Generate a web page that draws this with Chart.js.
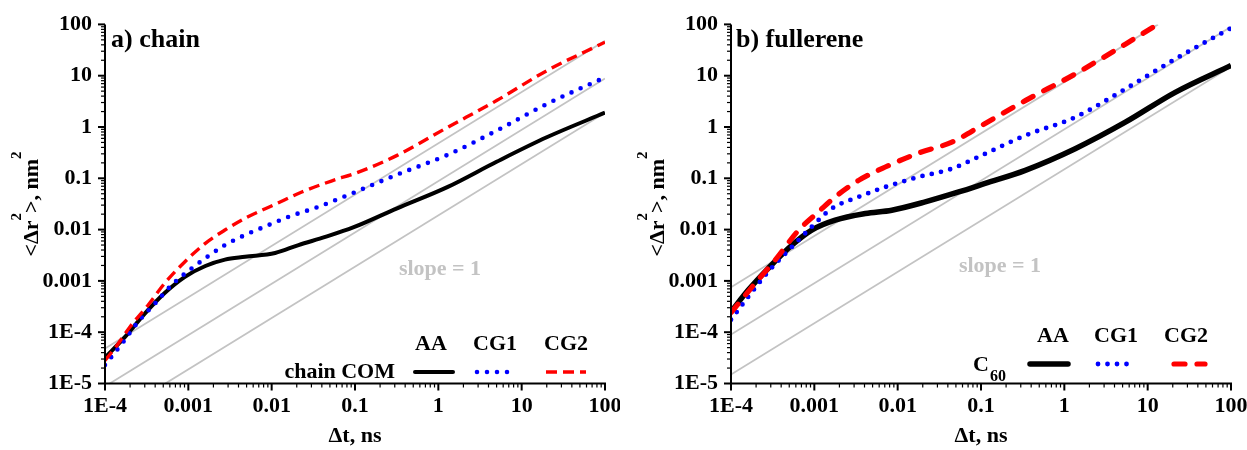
<!DOCTYPE html>
<html lang="en">
<head>
<meta charset="UTF-8">
<title>MSD chain / fullerene</title>
<script src="https://cdn.jsdelivr.net/npm/chart.js@4"></script>
<style>
  body { margin: 0; background: #fff; }
  canvas { position: absolute; top: 0; }
  #chartA { left: 0; }
  #chartB { left: 620px; }
</style>
</head>
<body>
<canvas id="chartA" width="620" height="450"></canvas>
<canvas id="chartB" width="627" height="450"></canvas>
<script>
// ---- axes ----
const xTickValues = [1e-4, 1e-3, 0.01, 0.1, 1, 10, 100];
const xTickLabels = ['1E-4', '0.001', '0.01', '0.1', '1', '10', '100'];
const yTickValues = [1e-5, 1e-4, 1e-3, 0.01, 0.1, 1, 10, 100];
const yTickLabels = ['1E-5', '1E-4', '0.001', '0.01', '0.1', '1', '10', '100'];

// ---- a) chain COM ----
const chainTimeAA = [1e-4, 1.74e-4, 3.0e-4, 5.2e-4, 9.1e-4, 1.6e-3, 2.75e-3, 4.8e-3, 0.011, 0.021, 0.044, 0.095, 0.32, 1.3, 5.0, 20, 100];
const chainAA     = [3.2e-5, 8.1e-5, 2.3e-4, 5.8e-4, 1.2e-3, 1.95e-3, 2.6e-3, 2.95e-3, 3.5e-3, 5.0e-3, 7.2e-3, 0.011, 0.026, 0.068, 0.21, 0.63, 1.9];
const chainTimeCG1 = [1e-4, 1.66e-4, 2.5e-4, 4.0e-4, 6.3e-4, 1.1e-3, 1.74e-3, 2.75e-3, 4.8e-3, 0.01, 0.016, 0.036, 0.095, 0.32, 1.3, 5.5, 20, 100];
const chainCG1     = [2.3e-5, 6.5e-5, 1.6e-4, 3.65e-4, 8.3e-4, 1.76e-3, 3.05e-3, 5.0e-3, 7.85e-3, 0.013, 0.0178, 0.0277, 0.0519, 0.118, 0.288, 0.92, 2.8, 9.3];
const chainTimeCG2 = [1e-4, 1.4e-4, 2.0e-4, 3.3e-4, 5.2e-4, 9.1e-4, 1.6e-3, 2.75e-3, 5.2e-3, 0.0105, 0.023, 0.052, 0.11, 0.32, 1.3, 5.0, 20, 100];
const chainCG2     = [2.8e-5, 5.6e-5, 1.28e-4, 3.4e-4, 9.0e-4, 2.37e-3, 5.4e-3, 9.8e-3, 0.0178, 0.030, 0.054, 0.0885, 0.132, 0.28, 0.99, 3.27, 12.5, 45];
// slope = 1 guides, [start, end] as [t, msd]
const chainGuides = [
  [[1e-4, 4.8e-5], [100, 48]],
  [[1.14e-4, 1e-5], [100, 8.8]],
  [[5.3e-4, 1e-5], [100, 1.9]]
];

// ---- b) fullerene (C60) ----
const fullTimeAA = [1e-4, 1.62e-4, 2.8e-4, 5.4e-4, 9.3e-4, 1.78e-3, 4.1e-3, 8.5e-3, 0.0214, 0.054, 0.112, 0.34, 1.35, 5.4, 21.4, 100];
const fullAA     = [2.5e-4, 6.7e-4, 1.76e-3, 5.0e-3, 9.8e-3, 0.0153, 0.0206, 0.0239, 0.0347, 0.0542, 0.0794, 0.143, 0.377, 1.24, 4.74, 15.8];
const fullTimeCG1 = [1e-4, 1.62e-4, 2.8e-4, 5.4e-4, 9.3e-4, 1.62e-3, 3.4e-3, 7.1e-3, 0.0178, 0.0447, 0.102, 0.34, 1.35, 5.4, 21.4, 100];
const fullCG1     = [1.75e-4, 4.95e-4, 1.51e-3, 4.62e-3, 0.01135, 0.0257, 0.0434, 0.0676, 0.106, 0.154, 0.280, 0.684, 1.55, 5.52, 21.1, 85];
const fullTimeCG2 = [1e-4, 1.95e-4, 3.4e-4, 6.5e-4, 1.12e-3, 1.78e-3, 3.4e-3, 7.1e-3, 0.0178, 0.0447, 0.102, 0.34, 1.35, 5.4, 13.2];
const fullCG2     = [2.4e-4, 9.0e-4, 2.57e-3, 9.8e-3, 0.0222, 0.0434, 0.0912, 0.166, 0.31, 0.507, 1.07, 3.27, 10.8, 41.2, 100];
const fullGuides = [
  [[1e-4, 7.5e-4], [13.3, 100]],
  [[1e-4, 9e-5], [100, 90]],
  [[1e-4, 1.5e-5], [100, 15]]
];

const SERIF = "'Liberation Serif', 'Times New Roman', serif";
const GRAY = '#c3c3c3';

function pts(xs, ys) {
  return xs.map((x, i) => ({ x: x, y: ys[i] }));
}

function curve(label, xs, ys, st, order) {
  return {
    label: label,
    data: pts(xs, ys),
    borderColor: st.color,
    borderWidth: st.width,
    borderDash: st.dash,
    borderCapStyle: st.cap,
    showLine: true,
    pointRadius: 0,
    cubicInterpolationMode: 'monotone',
    order: order
  };
}

function guide(seg) {
  return {
    data: seg.map(p => ({ x: p[0], y: p[1] })),
    borderColor: GRAY,
    borderWidth: 1.8,
    showLine: true,
    pointRadius: 0,
    order: 10
  };
}

// outward major + minor log ticks and the two axis lines
const logAxes = {
  id: 'logAxes',
  afterDraw(chart) {
    const ctx = chart.ctx;
    const a = chart.chartArea;
    ctx.save();
    ctx.strokeStyle = '#000';
    const sets = [[chart.scales.x, -4, 2], [chart.scales.y, -5, 2]];
    for (const [scale, lo, hi] of sets) {
      for (let e = lo; e <= hi; e++) {
        for (let k = 1; k <= 9; k++) {
          if (e === hi && k > 1) break;
          const p = scale.getPixelForValue(k * Math.pow(10, e));
          const len = k === 1 ? 7 : 4;
          ctx.lineWidth = k === 1 ? 2 : 1.2;
          ctx.beginPath();
          if (scale.isHorizontal()) {
            ctx.moveTo(p, a.bottom);
            ctx.lineTo(p, a.bottom + len);
          } else {
            ctx.moveTo(a.left, p);
            ctx.lineTo(a.left - len, p);
          }
          ctx.stroke();
        }
      }
    }
    ctx.lineWidth = 2;
    ctx.beginPath();
    ctx.moveTo(a.left, a.top);
    ctx.lineTo(a.left, a.bottom);
    ctx.lineTo(a.right + 1, a.bottom);
    ctx.stroke();
    ctx.restore();
  }
};

function sample(ctx, x1, x2, y, st) {
  ctx.save();
  ctx.strokeStyle = st.color;
  ctx.lineWidth = st.width;
  ctx.lineCap = st.legendCap || st.cap;
  ctx.setLineDash(st.dash);
  ctx.beginPath();
  ctx.moveTo(x1, y);
  ctx.lineTo(x2, y);
  ctx.stroke();
  ctx.restore();
}

// panel letter, y title, "slope = 1" note and the table-like legend
const panelText = {
  id: 'panelText',
  afterDraw(chart, args, o) {
    const ctx = chart.ctx;
    ctx.save();
    ctx.fillStyle = '#000';
    ctx.textBaseline = 'alphabetic';

    ctx.font = 'bold 26px ' + SERIF;
    ctx.textAlign = 'left';
    ctx.fillText(o.label, o.labelX, 47);

    // <Δr²>, nm² rotated
    ctx.save();
    ctx.translate(o.titleX, 204);
    ctx.rotate(-Math.PI / 2);
    const big = 'bold 22px ' + SERIF, sup = 'bold 15px ' + SERIF;
    const parts = [['<\u0394r', big, 0], ['2', sup, -17], ['>, nm', big, 0], ['2', sup, -17]];
    let total = 0;
    for (const p of parts) { ctx.font = p[1]; total += ctx.measureText(p[0]).width; }
    let x = -total / 2;
    for (const p of parts) {
      ctx.font = p[1];
      ctx.fillText(p[0], x, p[2]);
      x += ctx.measureText(p[0]).width;
    }
    ctx.restore();

    ctx.font = 'bold 22px ' + SERIF;
    ctx.fillStyle = GRAY;
    ctx.textAlign = 'center';
    ctx.fillText('slope = 1', o.slopeX, o.slopeY);

    ctx.fillStyle = '#000';
    o.heads.forEach(h => ctx.fillText(h[0], h[1], o.headY));

    ctx.textAlign = 'right';
    ctx.fillText(o.rowLabel, o.rowLabelX, o.rowY);
    if (o.rowSub) {
      ctx.textAlign = 'left';
      ctx.font = 'bold 16px ' + SERIF;
      ctx.fillText(o.rowSub, o.rowLabelX + 1, o.rowY + 10);
    }
    o.samples.forEach(s => sample(ctx, s[0], s[1], o.sampleY, s[2]));
    ctx.restore();
  }
};

function makePanel(id, series, guides, yWidth, padRight, text) {
  const datasets = series.map((s, i) => curve(s[0], s[1], s[2], s[3], 3 - i))
    .concat(guides.map(guide));
  return new Chart(document.getElementById(id), {
    type: 'scatter',
    data: { datasets: datasets },
    options: {
      responsive: false,
      animation: false,
      layout: { padding: { top: 24.4, right: padRight, bottom: 0, left: 0 } },
      plugins: {
        legend: { display: false },
        tooltip: { enabled: false },
        panelText: text
      },
      scales: {
        x: {
          type: 'logarithmic',
          min: 1e-4,
          max: 100,
          afterBuildTicks: s => { s.ticks = xTickValues.map(v => ({ value: v })); },
          afterFit: s => { s.height = 66.5; s.paddingLeft = 0; s.paddingRight = 0; },
          grid: { display: false, drawTicks: false },
          border: { display: false },
          ticks: {
            autoSkip: false,
            maxRotation: 0,
            padding: 10,
            color: '#000',
            font: { family: SERIF, size: 22, weight: 'bold' },
            callback: (v, i) => xTickLabels[i]
          },
          title: {
            display: true,
            text: '\u0394t, ns',
            color: '#000',
            padding: { top: 0, bottom: 0 },
            font: { family: SERIF, size: 22, weight: 'bold' }
          }
        },
        y: {
          type: 'logarithmic',
          min: 1e-5,
          max: 100,
          afterBuildTicks: s => { s.ticks = yTickValues.map(v => ({ value: v })); },
          afterFit: s => { s.width = yWidth; s.paddingTop = 0; s.paddingBottom = 0; },
          grid: { display: false, drawTicks: false },
          border: { display: false },
          ticks: {
            autoSkip: false,
            padding: 13,
            color: '#000',
            font: { family: SERIF, size: 22, weight: 'bold' },
            callback: (v, i) => yTickLabels[i]
          }
        }
      }
    },
    plugins: [logAxes, panelText]
  });
}

// line styles
const aaA  = { color: '#000000', width: 4, dash: [], cap: 'butt', legendCap: 'round' };
const cg1A = { color: '#0000ff', width: 4.6, dash: [0, 10], cap: 'round' };
const cg2A = { color: '#ff0000', width: 3.4, dash: [11, 6], cap: 'butt' };
const aaB  = { color: '#000000', width: 5.5, dash: [], cap: 'butt', legendCap: 'round' };
const cg1B = { color: '#0000ff', width: 4.8, dash: [0, 9.5], cap: 'round' };
const cg2B = { color: '#ff0000', width: 5.2, dash: [11, 12], cap: 'round' };

makePanel('chartA', [
  ['AA', chainTimeAA, chainAA, aaA],
  ['CG1', chainTimeCG1, chainCG1, cg1A],
  ['CG2', chainTimeCG2, chainCG2, cg2A]
], chainGuides, 105, 15, {
  label: 'a) chain', labelX: 111, titleX: 38,
  slopeX: 440, slopeY: 275,
  heads: [['AA', 431], ['CG1', 495], ['CG2', 566]], headY: 350,
  rowLabel: 'chain COM', rowLabelX: 395, rowY: 378, rowSub: null,
  sampleY: 372,
  samples: [[415, 453, aaA], [477, 511, cg1A], [546, 586, cg2A]]
});

makePanel('chartB', [
  ['AA', fullTimeAA, fullAA, aaB],
  ['CG1', fullTimeCG1, fullCG1, cg1B],
  ['CG2', fullTimeCG2, fullCG2, cg2B]
], fullGuides, 111, 16, {
  label: 'b) fullerene', labelX: 116, titleX: 44,
  slopeX: 380, slopeY: 272,
  heads: [['AA', 433], ['CG1', 496], ['CG2', 566]], headY: 342,
  rowLabel: 'C', rowLabelX: 369, rowY: 371, rowSub: '60',
  sampleY: 364,
  samples: [[410, 448, aaB], [478, 510, cg1B], [554, 585, cg2B]]
});
</script>
</body>
</html>
